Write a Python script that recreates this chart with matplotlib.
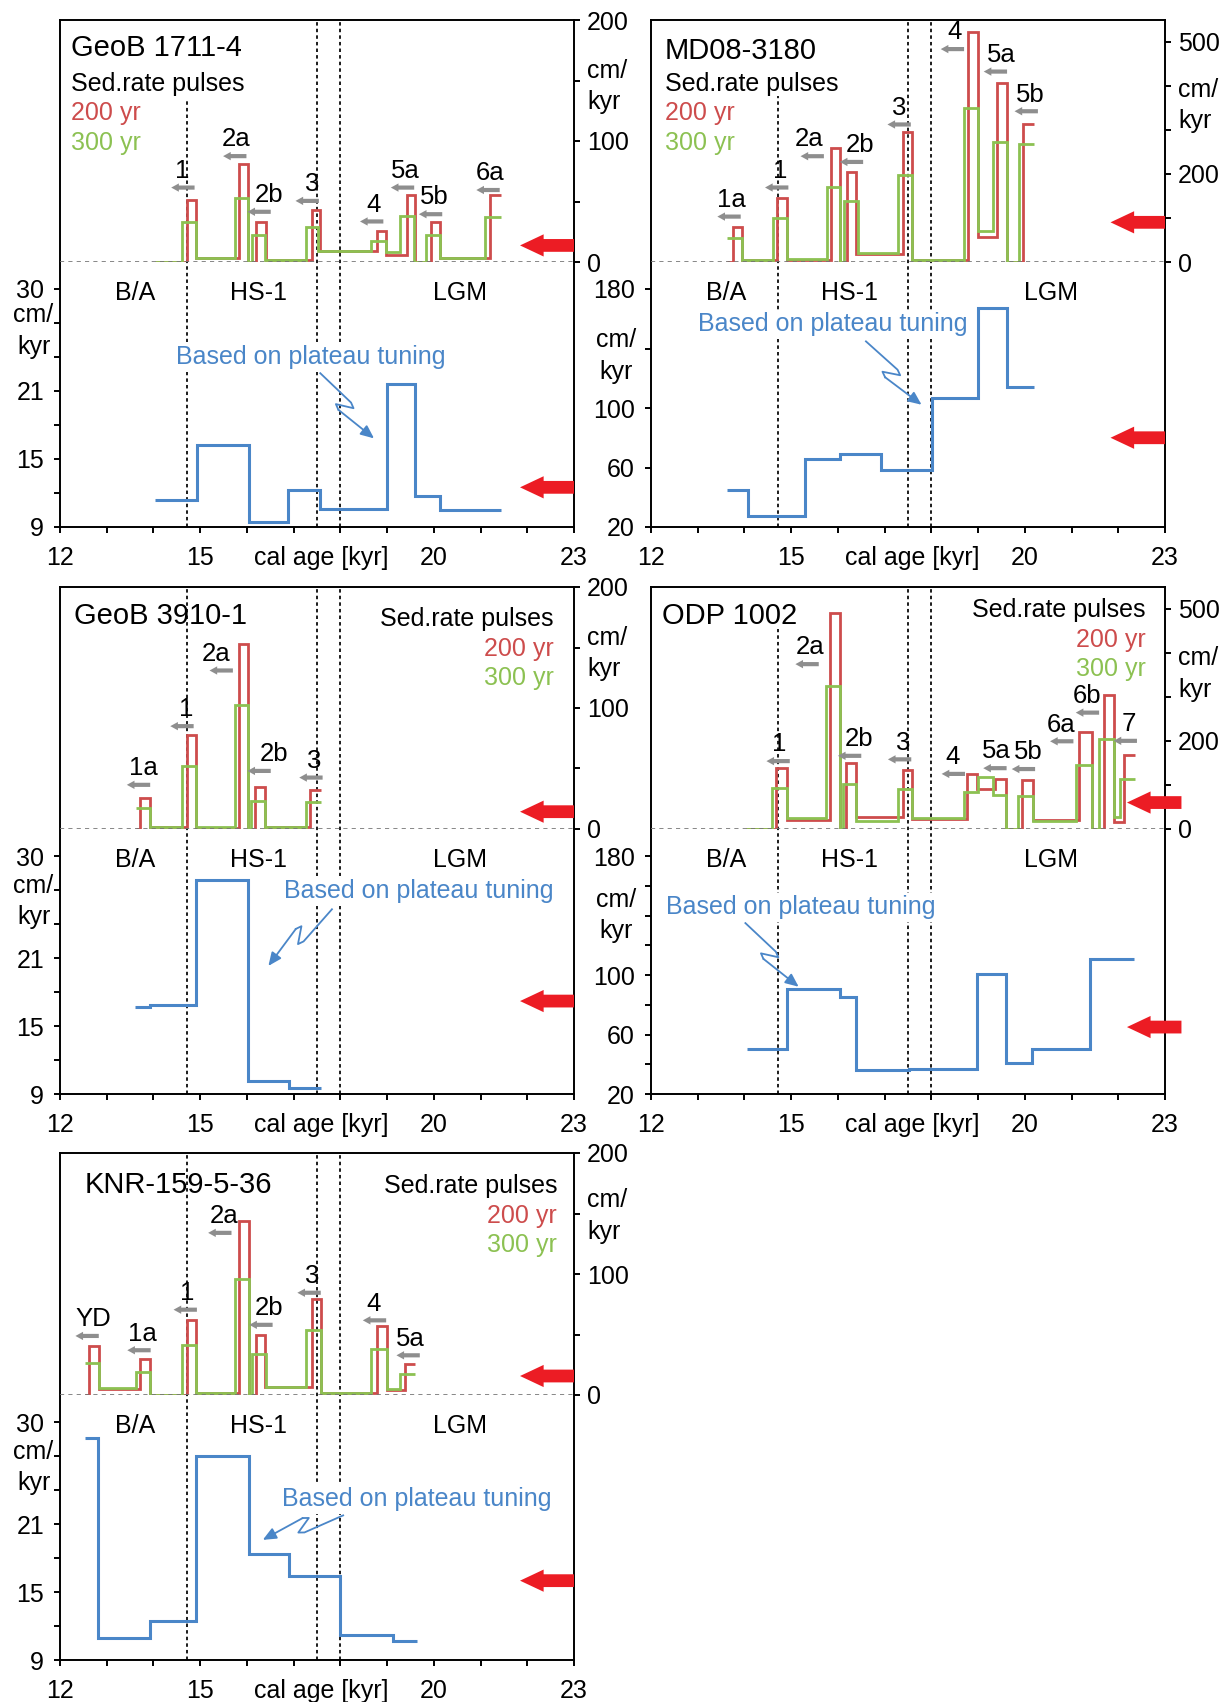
import numpy as np
import matplotlib.pyplot as plt

plt.rcParams['font.family'] = ['Liberation Sans', 'DejaVu Sans']
plt.rcParams['font.size'] = 18

RED = '#cd4c4c'
GREEN = '#8cc152'
BLUE = '#4a86c8'
BIG_RED = '#ec1c24'
GREY = '#8e8e8e'

W, H = 1229, 1702

cores = ['GeoB 1711-4', 'MD08-3180', 'GeoB 3910-1', 'ODP 1002', 'KNR-159-5-36']

# sed. rate pulses of 200 yr (red) and 300 yr (green): stair edges [kyr], rates [cm/kyr]
red_edges = [
    [14.03, 14.71, 14.92, 15.83, 16.03, 16.2, 16.4, 17.39, 17.57, 18.78, 18.98, 19.42, 19.6, 19.94, 20.14, 21.21, 21.44],
    [13.63, 13.75, 13.95, 14.7, 14.91, 15.85, 16.05, 16.2, 16.39, 17.4, 17.59, 18.79, 18.99, 19.41, 19.61, 19.97, 20.2],
    [13.62, 13.72, 13.93, 14.71, 14.92, 15.83, 16.03, 16.17, 16.38, 17.36, 17.59],
    [14.04, 14.67, 14.91, 15.83, 16.05, 16.18, 16.39, 17.4, 17.58, 18.77, 18.98, 19.36, 19.6, 19.93, 20.17, 21.17, 21.43, 21.69, 21.9, 22.13, 22.36],
    [12.53, 12.63, 12.84, 13.72, 13.93, 14.71, 14.92, 15.83, 16.05, 16.19, 16.39, 17.39, 17.59, 18.78, 18.99, 19.38, 19.6],
]
red_rates = [
    [0, 51, 3.5, 81, 0, 33, 2, 43, 9, 25.5, 6, 55, 0, 33, 3.5, 55],
    [0, 79, 5, 145, 5, 258, 0, 205, 19, 295, 5, 521, 56, 406, 0, 312],
    [0, 25.3, 1.4, 77.6, 0.8, 152.7, 0, 35, 1.4, 32.5],
    [0, 139, 20, 490, 0, 150, 28, 134, 22, 125, 91.5, 114, 0, 112, 20, 221, 0, 305, 16.5, 168],
    [0, 40.4, 4.7, 29.4, 0, 61.6, 1.9, 143.6, 0, 49.2, 6.6, 79.5, 1.4, 57, 3.9, 25.3],
]
green_edges = [
    [14.03, 14.61, 14.9, 15.74, 16.03, 16.1, 16.38, 17.27, 17.53, 18.66, 18.97, 19.28, 19.58, 19.83, 20.14, 21.1, 21.44],
    [13.63, 13.95, 14.62, 14.92, 15.76, 16.05, 16.14, 16.42, 17.29, 17.59, 18.7, 18.99, 19.31, 19.61, 19.88, 20.2],
    [13.62, 13.93, 14.61, 14.92, 15.74, 16.03, 16.09, 16.39, 17.27, 17.59],
    [14.04, 14.6, 14.91, 15.74, 16.05, 16.11, 16.39, 17.28, 17.58, 18.69, 19.0, 19.32, 19.6, 19.85, 20.17, 21.1, 21.43, 21.59, 21.9, 22.03, 22.36],
    [12.53, 12.84, 13.62, 13.93, 14.61, 14.92, 15.74, 16.05, 16.1, 16.4, 17.27, 17.59, 18.66, 18.99, 19.28, 19.6],
]
green_rates = [
    [0, 33, 3.5, 53, 0, 22.5, 2, 29, 9, 17, 8, 38, 0, 22.5, 3.5, 37.5],
    [54, 5, 99, 7.5, 171, 0, 139, 20, 197, 5, 350, 71, 273, 0, 267],
    [17.3, 1.4, 52.3, 1.4, 102.3, 0, 23.4, 1.4, 22],
    [0, 94, 26, 325, 0, 101, 18, 91.5, 26, 84, 119, 76.5, 0, 74, 18, 146, 0, 204, 28, 114],
    [26.7, 5.5, 19.3, 0, 41.3, 1.9, 95.5, 0, 33.6, 6.6, 53.4, 1.4, 38.2, 4.7, 17.6],
]

# sed. rates based on plateau tuning (lower scale)
blue_edges = [
    [14.03, 14.94, 16.05, 16.89, 17.57, 18.99, 19.6, 20.14, 21.44],
    [13.63, 14.08, 15.29, 16.04, 16.93, 18.01, 19.0, 19.61, 20.2],
    [13.6, 13.93, 14.92, 16.03, 16.9, 17.59],
    [14.05, 14.91, 16.05, 16.39, 17.52, 18.98, 19.6, 20.16, 21.4, 22.34],
    [12.53, 12.82, 13.93, 14.92, 16.05, 16.9, 18.0, 19.13, 19.63],
]
blue_rates = [
    [11.4, 16.2, 9.45, 12.3, 10.6, 21.6, 11.7, 10.5],
    [45, 27.3, 66, 69.2, 58.1, 107, 167, 114],
    [16.72, 16.87, 27.85, 10.17, 9.5],
    [50.4, 90.5, 84.9, 35.8, 36.9, 100.5, 40.7, 50.4, 110.6],
    [28.58, 10.93, 12.44, 26.98, 18.38, 16.45, 11.23, 10.66],
]

# pulse labels with grey arrows
pulse_names = [
    ['1', '2a', '2b', '3', '4', '5a', '5b', '6a'],
    ['1a', '1', '2a', '2b', '3', '4', '5a', '5b'],
    ['1a', '1', '2a', '2b', '3'],
    ['1', '2a', '2b', '3', '4', '5a', '5b', '6a', '6b', '7'],
    ['YD', '1a', '1', '2a', '2b', '3', '4', '5a'],
]
pulse_x = [
    [14.63, 15.74, 16.26, 17.29, 18.67, 19.33, 19.93, 21.16],
    [13.67, 14.69, 15.45, 16.29, 17.31, 18.45, 19.37, 20.03],
    [13.68, 14.61, 15.45, 16.26, 17.37],
    [14.72, 15.34, 16.25, 17.32, 18.47, 19.36, 19.97, 20.79, 21.34, 22.15],
    [12.58, 13.69, 14.68, 15.42, 16.3, 17.33, 18.73, 19.45],
]
pulse_label_x = [
    [14.61, 15.76, 16.48, 17.4, 18.72, 19.38, 20.02, 21.21],
    [13.71, 14.76, 15.38, 16.47, 17.32, 18.5, 19.49, 20.11],
    [13.79, 14.69, 15.33, 16.58, 17.43],
    [14.75, 15.4, 16.45, 17.4, 18.46, 19.4, 20.07, 20.78, 21.34, 22.23],
    [12.72, 13.77, 14.73, 15.51, 16.48, 17.39, 18.7, 19.5],
]
pulse_y = [
    [61.5, 87.5, 41.5, 50.5, 33.5, 61.5, 39.5, 59.5],
    [103, 169, 240, 227, 312, 483, 432, 342],
    [36.5, 85, 131, 48, 42.5],
    [154, 374, 166, 158, 125, 138, 136, 199, 264, 200],
    [48.8, 37, 70.5, 134, 58, 84.5, 61.7, 32.8],
]

# mean rates marked by the red arrows
mean_upper = [13.7, 90, 14.3, 60, 15.7]
mean_lower = [12.5, 80, 17.2, 65, 16.0]

boundaries = [14.72, 17.5, 18.0]
periods = ['B/A', 'HS-1', 'LGM']
period_x = [13.6, 16.25, 20.55]

upper_top = [200, 549, 200, 549, 200]
upper_step = [50, 100, 50, 100, 50]
upper_shown = [[0, 100, 200], [0, 200, 500], [0, 100, 200], [0, 200, 500], [0, 100, 200]]
upper_unit_y = [145, 355, 145, 352, 148]
lower_lim = [(9, 30), (20, 180), (9, 30), (20, 180), (9, 30)]
lower_step = [3, 40, 3, 20, 3]
lower_shown = [[9, 15, 21, 30], [20, 60, 100, 180], [9, 15, 21, 30], [20, 60, 100, 180], [9, 15, 21, 30]]
lower_unit_y = [26.3, 135, 26.0, 140, 26.0]

# "Based on plateau tuning" note: text centre, arrow start, arrow end
note_xy = [(17.36, 24.0), (15.89, 156.2), (19.67, 26.9), (15.2, 145.5), (19.63, 23.2)]
note_from = [(17.57, 22.57), (16.6, 144.8), (17.82, 25.3), (14.02, 134.9), (18.06, 21.76)]
note_to = [(18.72, 16.82), (17.79, 102.2), (16.46, 20.3), (15.16, 92.1), (16.34, 19.6)]

# layout in pixels
col_left = [60, 651, 60, 651, 60]
row_top = [20, 20, 587, 587, 1153]
PW, PH = 514, 507
UP_H = 242
LO_TOP = 269
first_line_top = [0.84, 0.85, 1.0, 0.917, 1.0]
title_pos = [(0.021, 0.945), (0.027, 0.939), (0.027, 0.943), (0.021, 0.943), (0.047, 0.937)]
legend_pos = [(0.021, 0.874, 'left'), (0.027, 0.874, 'left'), (0.961, 0.936, 'right'),
              (0.962, 0.954, 'right'), (0.967, 0.934, 'right')]
red_arrow_span = [(0.895, 1.0), (0.894, 1.0), (0.895, 1.0), (0.926, 1.032), (0.895, 1.0)]


def px_axes(fig, left, top, width, height):
    return fig.add_axes([left / W, 1 - (top + height) / H, width / W, height / H])


def squiggle(ax, start, end, color):
    # broken "lightning" arrow, built in pixel space
    p0 = ax.transData.transform(start)
    p1 = ax.transData.transform(end)
    d = p1 - p0
    n = np.array([-d[1], d[0]])
    shape = [(0, 0), (0.5, 0.06), (0.57, 0.04), (0.4, -0.09), (0.47, -0.11)]
    pts = np.array([p0 + t * d + s * n for t, s in shape])
    pts = ax.transData.inverted().transform(pts)
    ax.plot(pts[:, 0], pts[:, 1], color=color, lw=1.3, solid_joinstyle='round')
    ax.annotate('', xy=end, xytext=pts[-1],
                arrowprops=dict(arrowstyle='-|>,head_length=0.5,head_width=0.22', color=color,
                                lw=1.3, shrinkA=0, shrinkB=0, mutation_scale=16))


fig = plt.figure(figsize=(12.29, 17.02), dpi=100)

for i, core in enumerate(cores):
    x0, y0 = col_left[i], row_top[i]
    frame = px_axes(fig, x0, y0, PW, PH)
    up = px_axes(fig, x0, y0, PW, UP_H)
    lo = px_axes(fig, x0, y0 + LO_TOP, PW, PH - LO_TOP)
    for ax in (frame, up, lo):
        ax.set_xlim(12, 23)

    # frame + x axis
    frame.set_ylim(0, 1)
    frame.set_yticks([])
    ticks = list(range(12, 24))
    frame.set_xticks(ticks)
    frame.set_xticklabels([str(t) if t in (12, 15, 20, 23) else '' for t in ticks])
    frame.tick_params(axis='x', direction='out', length=4.5, width=1.4, pad=9)
    for s in frame.spines.values():
        s.set_linewidth(1.4)
    frame.annotate('cal age [kyr]', xy=(17.6, 0), xycoords=('data', 'axes fraction'),
                   xytext=(0, -13.5), textcoords='offset points', ha='center', va='top')
    for k, b in enumerate(boundaries):
        top = first_line_top[i] if k == 0 else 1.0
        frame.axvline(b, 0, top, color='k', ls=(0, (2, 1.8)), lw=1.25)

    for ax in (up, lo):
        ax.patch.set_visible(False)
        for s in ax.spines.values():
            s.set_visible(False)
        ax.set_xticks([])

    # upper part: pulses, right axis
    up.set_ylim(0, upper_top[i])
    up.yaxis.tick_right()
    uticks = np.arange(0, upper_top[i] + 1, upper_step[i])
    up.set_yticks(uticks)
    up.set_yticklabels([str(int(t)) if t in upper_shown[i] else '' for t in uticks])
    up.tick_params(axis='y', direction='out', length=4.5, width=1.4, pad=5)
    up.annotate('cm/\nkyr', xy=(1, upper_unit_y[i]), xycoords=up.get_yaxis_transform(),
                xytext=(9.5, 0), textcoords='offset points', ha='left', va='center',
                linespacing=1.4)
    up.axhline(0, color='0.45', ls=(0, (2.5, 2.5)), lw=1.2)
    up.stairs(red_rates[i], red_edges[i], color=RED, lw=2.0, baseline=None)
    up.stairs(green_rates[i], green_edges[i], color=GREEN, lw=2.0, baseline=None)
    for name, ax_x, lx, py in zip(pulse_names[i], pulse_x[i], pulse_label_x[i], pulse_y[i]):
        up.annotate('', xy=(ax_x - 0.25, py), xytext=(ax_x + 0.25, py),
                    arrowprops=dict(arrowstyle='simple,head_length=0.55,head_width=0.6,tail_width=0.3',
                                    fc=GREY, ec='none', mutation_scale=10, shrinkA=0, shrinkB=0))
        up.annotate(name, xy=(lx, py), xytext=(0, 7), textcoords='offset points',
                    ha='center', va='baseline', fontsize=18.5)
    for label, px in zip(periods, period_x):
        up.annotate(label, xy=(px, 0), xytext=(0, -22), textcoords='offset points',
                    ha='center', va='center')

    # lower part: plateau tuning, left axis
    lo.set_ylim(*lower_lim[i])
    lticks = np.arange(lower_lim[i][0], lower_lim[i][1] + 1, lower_step[i])
    lo.set_yticks(lticks)
    lo.set_yticklabels([str(int(t)) if t in lower_shown[i] else '' for t in lticks])
    lo.tick_params(axis='y', direction='out', length=4.5, width=1.4, pad=7)
    unit_dx = -19 if lower_lim[i][0] == 9 else -25
    lo.annotate('cm/\nkyr', xy=(0, lower_unit_y[i]), xycoords=lo.get_yaxis_transform(),
                xytext=(unit_dx, 0), textcoords='offset points', ha='center', va='center',
                linespacing=1.4)
    lo.stairs(blue_rates[i], blue_edges[i], color=BLUE, lw=2.2, baseline=None)
    lo.text(*note_xy[i], 'Based on plateau tuning', color=BLUE, ha='center', va='center',
            bbox=dict(fc='white', ec='none', pad=2))
    squiggle(lo, note_from[i], note_to[i], BLUE)

    # mean rate arrows
    tip, tail = red_arrow_span[i]
    for ax, val in ((up, mean_upper[i]), (lo, mean_lower[i])):
        ax.annotate('', xy=(tip, val), xytext=(tail, val), xycoords=ax.get_yaxis_transform(),
                    arrowprops=dict(arrowstyle='simple,head_length=0.85,head_width=0.8,tail_width=0.46',
                                    fc=BIG_RED, ec='none', mutation_scale=20, shrinkA=0, shrinkB=0),
                    annotation_clip=False)

    # core name and legend
    tx, ty = title_pos[i]
    frame.text(tx, ty, core, transform=frame.transAxes, fontsize=21, ha='left', va='center')
    lx, ly, ha = legend_pos[i]
    for k, (txt, col) in enumerate([('Sed.rate pulses', 'k'), ('200 yr', RED), ('300 yr', GREEN)]):
        frame.text(lx, ly - k * 0.058, txt, color=col, transform=frame.transAxes,
                   ha=ha, va='center')

fig.savefig('out.png', dpi=100)
